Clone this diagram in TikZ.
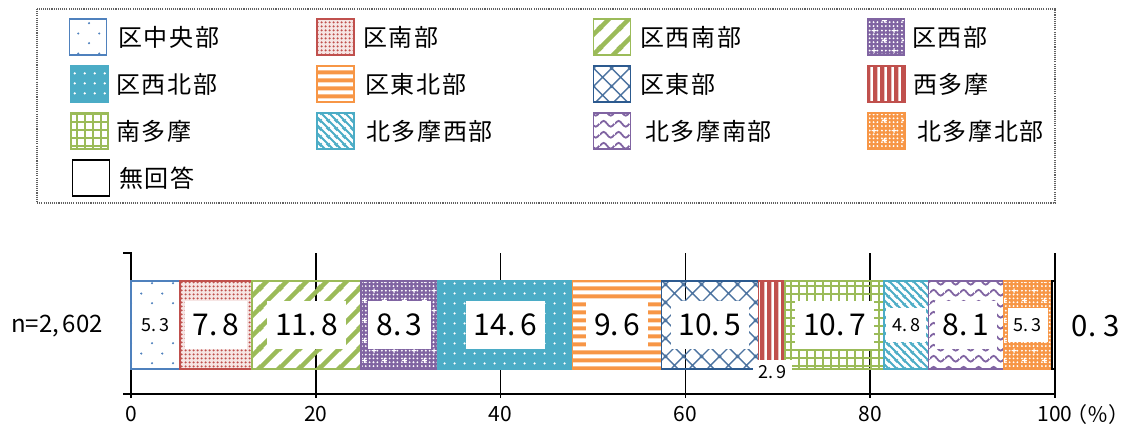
\documentclass[tikz,border=0pt]{standalone}
\usepackage{fontspec}
\setmainfont{Noto Sans CJK JP}
\newfontfamily\jp[LetterSpace=7]{Noto Sans CJK JP}
\usetikzlibrary{patterns}

\definecolor{cBlue}{HTML}{4F81BD}
\definecolor{cRed}{HTML}{C0504D}
\definecolor{cGreen}{HTML}{9BBB59}
\definecolor{cPurple}{HTML}{8064A2}
\definecolor{cTeal}{HTML}{4BACC6}
\definecolor{cOrange}{HTML}{F79646}
\definecolor{cNavy}{HTML}{2C5A8F}

% sparse staggered dots
\pgfdeclarepatternformonly{sparsedots}{\pgfpointorigin}{\pgfqpoint{15.75pt}{15pt}}{\pgfqpoint{15.75pt}{15pt}}{%
  \pgfpathcircle{\pgfqpoint{3.9pt}{3.75pt}}{0.9pt}%
  \pgfpathcircle{\pgfqpoint{11.8pt}{11.25pt}}{0.9pt}%
  \pgfusepath{fill}}
% fine dense dots
\pgfdeclarepatternformonly{finedots}{\pgfpointorigin}{\pgfqpoint{3pt}{3pt}}{\pgfqpoint{3pt}{3pt}}{%
  \pgfpathcircle{\pgfqpoint{1.5pt}{1.5pt}}{1.05pt}%
  \pgfusepath{fill}}
% wide north-east stripes
\pgfdeclarepatternformonly{widene}{\pgfpointorigin}{\pgfqpoint{15pt}{15pt}}{\pgfqpoint{15pt}{15pt}}{%
  \pgfsetlinewidth{3.4pt}%
  \pgfpathmoveto{\pgfqpoint{-15pt}{-30pt}}\pgfpathlineto{\pgfqpoint{30pt}{15pt}}%
  \pgfpathmoveto{\pgfqpoint{-15pt}{-15pt}}\pgfpathlineto{\pgfqpoint{30pt}{30pt}}%
  \pgfpathmoveto{\pgfqpoint{-15pt}{0pt}}\pgfpathlineto{\pgfqpoint{30pt}{45pt}}%
  \pgfusepath{stroke}}
% small dots + crosses
\pgfdeclarepatternformonly{dotcross}{\pgfpointorigin}{\pgfqpoint{15pt}{15pt}}{\pgfqpoint{15pt}{15pt}}{%
  \foreach \i in {1.5,4.5,7.5,10.5,13.5}{\foreach \j in {1.5,4.5,7.5,10.5,13.5}{%
    \pgfpathcircle{\pgfpoint{\i pt}{\j pt}}{0.8pt}\pgfusepath{fill}}}%
  \pgfpathrectangle{\pgfqpoint{1.5pt}{5.6pt}}{\pgfqpoint{3.8pt}{0.8pt}}%
  \pgfpathrectangle{\pgfqpoint{3pt}{4.1pt}}{\pgfqpoint{0.8pt}{3.8pt}}%
  \pgfpathrectangle{\pgfqpoint{9pt}{13.1pt}}{\pgfqpoint{3.8pt}{0.8pt}}%
  \pgfpathrectangle{\pgfqpoint{10.5pt}{11.6pt}}{\pgfqpoint{0.8pt}{3.8pt}}%
  \pgfusepath{fill}}
% medium dot grid
\pgfdeclarepatternformonly{griddots}{\pgfpointorigin}{\pgfqpoint{7.5pt}{7.5pt}}{\pgfqpoint{7.5pt}{7.5pt}}{%
  \pgfpathcircle{\pgfqpoint{3.75pt}{3.75pt}}{1pt}%
  \pgfusepath{fill}}
% horizontal stripes
\pgfdeclarepatternformonly{hstripes}{\pgfpointorigin}{\pgfqpoint{6pt}{6pt}}{\pgfqpoint{6pt}{6pt}}{%
  \pgfpathrectangle{\pgfqpoint{-1pt}{1.3pt}}{\pgfqpoint{8pt}{3.4pt}}%
  \pgfusepath{fill}}
% vertical stripes
\pgfdeclarepatternformonly{vstripes}{\pgfpointorigin}{\pgfqpoint{5pt}{5pt}}{\pgfqpoint{5pt}{5pt}}{%
  \pgfpathrectangle{\pgfqpoint{0pt}{-1pt}}{\pgfqpoint{3.3pt}{7pt}}%
  \pgfusepath{fill}}
% diamond lattice
\pgfdeclarepatternformonly{diamond}{\pgfpointorigin}{\pgfqpoint{13.5pt}{13.5pt}}{\pgfqpoint{13.5pt}{13.5pt}}{%
  \pgfsetlinewidth{1.1pt}%
  \pgfpathmoveto{\pgfqpoint{-13.5pt}{-27pt}}\pgfpathlineto{\pgfqpoint{27pt}{13.5pt}}%
  \pgfpathmoveto{\pgfqpoint{-13.5pt}{-13.5pt}}\pgfpathlineto{\pgfqpoint{27pt}{27pt}}%
  \pgfpathmoveto{\pgfqpoint{-13.5pt}{0pt}}\pgfpathlineto{\pgfqpoint{27pt}{40.5pt}}%
  \pgfpathmoveto{\pgfqpoint{-13.5pt}{13.5pt}}\pgfpathlineto{\pgfqpoint{27pt}{-27pt}}%
  \pgfpathmoveto{\pgfqpoint{-13.5pt}{27pt}}\pgfpathlineto{\pgfqpoint{27pt}{-13.5pt}}%
  \pgfpathmoveto{\pgfqpoint{-13.5pt}{40.5pt}}\pgfpathlineto{\pgfqpoint{27pt}{0pt}}%
  \pgfusepath{stroke}}
% square grid
\pgfdeclarepatternformonly{gridp}{\pgfpointorigin}{\pgfqpoint{5.7pt}{5.7pt}}{\pgfqpoint{5.7pt}{5.7pt}}{%
  \pgfpathrectangle{\pgfqpoint{0pt}{-1pt}}{\pgfqpoint{1.5pt}{7.7pt}}%
  \pgfpathrectangle{\pgfqpoint{-1pt}{0pt}}{\pgfqpoint{7.7pt}{1.5pt}}%
  \pgfusepath{fill}}
% north-west thin stripes
\pgfdeclarepatternformonly{nwlines}{\pgfpointorigin}{\pgfqpoint{5.6pt}{5.6pt}}{\pgfqpoint{5.6pt}{5.6pt}}{%
  \pgfsetlinewidth{1.5pt}%
  \pgfpathmoveto{\pgfqpoint{-5.6pt}{5.6pt}}\pgfpathlineto{\pgfqpoint{11.2pt}{-11.2pt}}%
  \pgfpathmoveto{\pgfqpoint{-5.6pt}{11.2pt}}\pgfpathlineto{\pgfqpoint{11.2pt}{-5.6pt}}%
  \pgfpathmoveto{\pgfqpoint{-5.6pt}{16.8pt}}\pgfpathlineto{\pgfqpoint{11.2pt}{0pt}}%
  \pgfusepath{stroke}}
% waves
\pgfdeclarepatternformonly{waves}{\pgfpointorigin}{\pgfqpoint{11.25pt}{8pt}}{\pgfqpoint{11.25pt}{8pt}}{%
  \pgfsetlinewidth{1.4pt}%
  \pgfpathmoveto{\pgfqpoint{0pt}{4pt}}%
  \pgfpathsine{\pgfqpoint{2.8125pt}{2.2pt}}%
  \pgfpathcosine{\pgfqpoint{2.8125pt}{-2.2pt}}%
  \pgfpathsine{\pgfqpoint{2.8125pt}{-2.2pt}}%
  \pgfpathcosine{\pgfqpoint{2.8125pt}{2.2pt}}%
  \pgfusepath{stroke}}

\newcommand\nm[2]{#1.\kern.15em#2}

\begin{document}
\begin{tikzpicture}[x=0.75pt,y=-0.75pt,
  sA/.style={draw=cBlue, pattern=sparsedots, pattern color=cBlue},
  sB/.style={draw=cRed, preaction={fill=cRed!15}, pattern=finedots, pattern color=cRed},
  sC/.style={draw=cGreen, pattern=widene, pattern color=cGreen},
  sD/.style={draw=cPurple, preaction={fill=cPurple}, pattern=dotcross, pattern color=white},
  sE/.style={draw=cTeal, preaction={fill=cTeal}, pattern=griddots, pattern color=white},
  sF/.style={draw=cOrange, pattern=hstripes, pattern color=cOrange},
  sG/.style={draw=cNavy, pattern=diamond, pattern color=cNavy!85},
  sH/.style={draw=cRed, pattern=vstripes, pattern color=cRed},
  sI/.style={draw=cGreen, pattern=gridp, pattern color=cGreen},
  sJ/.style={draw=cTeal, pattern=nwlines, pattern color=cTeal},
  sK/.style={draw=cPurple, pattern=waves, pattern color=cPurple},
  sL/.style={draw=cOrange, preaction={fill=cOrange}, pattern=dotcross, pattern color=white},
  sM/.style={draw=black, fill=white},
  seg/.style={line width=1.1pt},
  swatch/.style={minimum width=27.75pt, minimum height=27pt, inner sep=0pt, line width=1.1pt},
  ltext/.style={anchor=west, inner sep=0pt, font=\jp\fontsize{18}{18}\selectfont},
  lbig/.style={fill=white, inner xsep=6pt, inner ysep=0pt, minimum height=36pt, font=\fontsize{22.5}{22.5}\selectfont},
  lsmall/.style={fill=white, inner xsep=4.5pt, inner ysep=0pt, minimum height=26pt, font=\fontsize{13.5}{13.5}\selectfont},
  axisline/.style={line width=1.1pt, black},
  ticklabel/.style={font=\fontsize{15.75}{15.75}\selectfont, inner sep=0pt},
  legendframe/.style={draw=gray!75!black, line width=1.8pt, dash pattern=on 0.8pt off 0.8pt}
]
\useasboundingbox (0,0) rectangle (1136,428);

% ---------- legend ----------
\draw[legendframe] (37,9) rectangle (1055,203);

\node[swatch, sA] (kA) at (88,37) {};
\node[ltext] (tA) at (118,37) {区中央部};
\node[swatch, sB] (kB) at (335.5,37) {};
\node[ltext] (tB) at (363,37) {区南部};
\node[swatch, sC] (kC) at (612,37) {};
\node[ltext] (tC) at (640,37) {区西南部};
\node[swatch, sD] (kD) at (886,37) {};
\node[ltext] (tD) at (912,37) {区西部};

\node[swatch, sE] (kE) at (89.5,84) {};
\node[ltext] (tE) at (116,84) {区西北部};
\node[swatch, sF] (kF) at (335.5,84) {};
\node[ltext] (tF) at (365,84) {区東北部};
\node[swatch, sG] (kG) at (612,84) {};
\node[ltext] (tG) at (640,84) {区東部};
\node[swatch, sH] (kH) at (886.5,84) {};
\node[ltext] (tH) at (913,84) {西多摩};

\node[swatch, sI] (kI) at (89.5,131) {};
\node[ltext] (tI) at (116,131) {南多摩};
\node[swatch, sJ] (kJ) at (335.5,131) {};
\node[ltext] (tJ) at (366,131) {北多摩西部};
\node[swatch, sK] (kK) at (612,131) {};
\node[ltext] (tK) at (645,131) {北多摩南部};
\node[swatch, sL] (kL) at (886.5,131) {};
\node[ltext] (tL) at (917,131) {北多摩北部};

\node[swatch, sM] (kM) at (91,178) {};
\node[ltext] (tM) at (119,178) {無回答};

% ---------- axes and grid ----------
\foreach \v in {20,40,60,80,100}
  \draw[axisline] ({131+9.24*\v},253) -- ({131+9.24*\v},398);
\draw[axisline] (123,253) -- (131,253) -- (131,398);
\draw[axisline] (123,394) -- (1055,394);

% ---------- bar segments ----------
\path[seg, sA] (131,281) rectangle (180.0,369);
\path[seg, sB] (180.0,281) rectangle (252.0,369);
\path[seg, sC] (252.0,281) rectangle (361.1,369);
\path[seg, sD] (361.1,281) rectangle (437.8,369);
\path[seg, sE] (437.8,281) rectangle (572.7,369);
\path[seg, sF] (572.7,281) rectangle (661.4,369);
\path[seg, sG] (661.4,281) rectangle (758.4,369);
\path[seg, sH] (758.4,281) rectangle (785.2,369);
\path[seg, sI] (785.2,281) rectangle (884.1,369);
\path[seg, sJ] (884.1,281) rectangle (928.4,369);
\path[seg, sK] (928.4,281) rectangle (1003.3,369);
\path[seg, sL] (1003.3,281) rectangle (1052.2,369);
\path[seg, sM] (1052.2,281) rectangle (1055,369);

% ---------- value labels ----------
\node[lsmall] (vA) at (155.5,325) {\nm{5}{3}};
\node[lbig] (vB) at (216,325) {\nm{7}{8}};
\node[lbig] (vC) at (306.6,325) {\nm{11}{8}};
\node[lbig] (vD) at (399.5,325) {\nm{8}{3}};
\node[lbig] (vE) at (505.3,325) {\nm{14}{6}};
\node[lbig] (vF) at (617.1,325) {\nm{9}{6}};
\node[lbig] (vG) at (709.9,325) {\nm{10}{5}};
\node[lsmall, minimum height=19pt] (vH) at (772.5,372.5) {\nm{2}{9}};
\node[lbig] (vI) at (834.7,325) {\nm{10}{7}};
\node[lsmall] (vJ) at (906.3,325) {\nm{4}{8}};
\node[lbig] (vK) at (965.9,325) {\nm{8}{1}};
\node[lsmall] (vL) at (1027.8,325) {\nm{5}{3}};
\node[font=\fontsize{22}{22}\selectfont, inner sep=0pt] (vM) at (1096,326) {0.\kern.25em3};

\node[font=\fontsize{18}{18}\selectfont, inner sep=0pt] (n) at (57,326) {n=2,\kern.15em602};

% ---------- tick labels ----------
\foreach \v in {0,20,40,60,80,100}
  \node[ticklabel] (x\v) at ({131+9.24*\v},414.5) {\v};
\node[ticklabel, anchor=west] (pct) at (1066,414.5) {（％）};
\end{tikzpicture}
\end{document}
